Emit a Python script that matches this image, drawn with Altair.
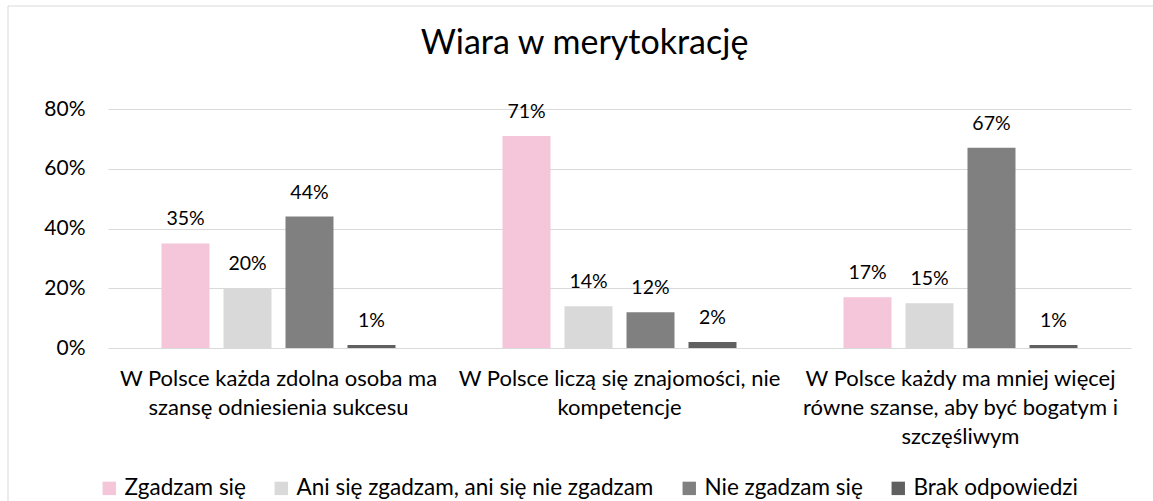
import altair as alt
import pandas as pd

categories = [
    "W Polsce każda zdolna osoba ma|szansę odniesienia sukcesu",
    "W Polsce liczą się znajomości, nie|kompetencje",
    "W Polsce każdy ma mniej więcej|równe szanse, aby być bogatym i|szczęśliwym",
]
series = [
    "Zgadzam się",
    "Ani się zgadzam, ani się nie zgadzam",
    "Nie zgadzam się",
    "Brak odpowiedzi",
]
zgadzam = [0.35, 0.71, 0.17]
ani = [0.20, 0.14, 0.15]
nie = [0.44, 0.12, 0.67]
brak = [0.01, 0.02, 0.01]
colors = ["#F5C5DA", "#D9D9D9", "#808080", "#606060"]
y_ticks = [0, 0.2, 0.4, 0.6, 0.8]

rows = []
for s, vals in zip(series, [zgadzam, ani, nie, brak]):
    for c, v in zip(categories, vals):
        rows.append({"cat": c, "series": s, "value": v})
df = pd.DataFrame(rows)

FONT = "Lato"
W, H = 1023, 239

x_enc = alt.X(
    "cat:N",
    sort=categories,
    scale=alt.Scale(paddingInner=0, paddingOuter=0),
    axis=alt.Axis(
        title=None,
        labelExpr="split(datum.value, '|')",
        labelAngle=0,
        labelFont=FONT,
        labelFontSize=22,
        labelColor="#000000",
        labelLineHeight=29,
        labelPadding=20,
        labelLimit=400,
        domain=False,
        ticks=False,
    ),
)
xoff_enc = alt.XOffset(
    "series:N",
    sort=series,
    scale=alt.Scale(paddingInner=0.2258, paddingOuter=0.863),
)

base = alt.Chart(df)

bars = base.mark_bar().encode(
    x=x_enc,
    xOffset=xoff_enc,
    y=alt.Y(
        "value:Q",
        scale=alt.Scale(domain=[0, 0.8], nice=False),
        axis=alt.Axis(
            title=None,
            values=y_ticks,
            format=".0%",
            labelFont=FONT,
            labelFontSize=21,
            labelColor="#000000",
            labelPadding=23,
            ticks=False,
            domain=False,
            grid=True,
            gridColor="#D9D9D9",
            gridWidth=1,
        ),
    ),
    color=alt.Color(
        "series:N",
        sort=series,
        scale=alt.Scale(domain=series, range=colors),
        legend=alt.Legend(
            title=None,
            orient="none",
            legendX=-10,
            legendY=368,
            direction="horizontal",
            symbolType="square",
            symbolSize=180,
            symbolStrokeWidth=0,
            labelFont=FONT,
            labelFontSize=22.5,
            labelColor="#000000",
            labelOffset=4,
            columnPadding=24,
            labelLimit=500,
        ),
    ),
)

labels = base.mark_text(
    font=FONT, fontSize=19.5, color="#000000", baseline="alphabetic", dy=-18
).encode(
    x=alt.X("cat:N", sort=categories),
    xOffset=alt.XOffset("series:N", sort=series),
    y=alt.Y("value:Q"),
    text=alt.Text("value:Q", format=".0%"),
)

frame_df = pd.DataFrame({"k": [0]})
top_line = alt.Chart(frame_df).mark_rule(color="#D9D9D9", strokeWidth=1).encode(
    x=alt.value(-100), x2=alt.value(1045), y=alt.value(-103)
)
left_line = alt.Chart(frame_df).mark_rule(color="#D9D9D9", strokeWidth=1).encode(
    x=alt.value(-100), y=alt.value(-103), y2=alt.value(392)
)

chart = (
    alt.layer(top_line, left_line, bars, labels)
    .properties(
        width=W,
        height=H,
        autosize=alt.AutoSizeParams(type="none"),
        padding={"left": 108, "top": 109, "right": 22, "bottom": 153},
        title=alt.TitleParams(
            "Wiara w merytokrację",
            font=FONT,
            fontSize=34,
            fontWeight="normal",
            color="#000000",
            anchor="middle",
            frame="group",
            baseline="alphabetic",
            dx=-35,
            dy=82,
            offset=0,
        ),
    )
    .configure_view(stroke=None)
    .configure_scale(bandPaddingInner=0, bandPaddingOuter=0)
)

chart.save("out.html", embed_options={"renderer": "svg", "actions": False})
